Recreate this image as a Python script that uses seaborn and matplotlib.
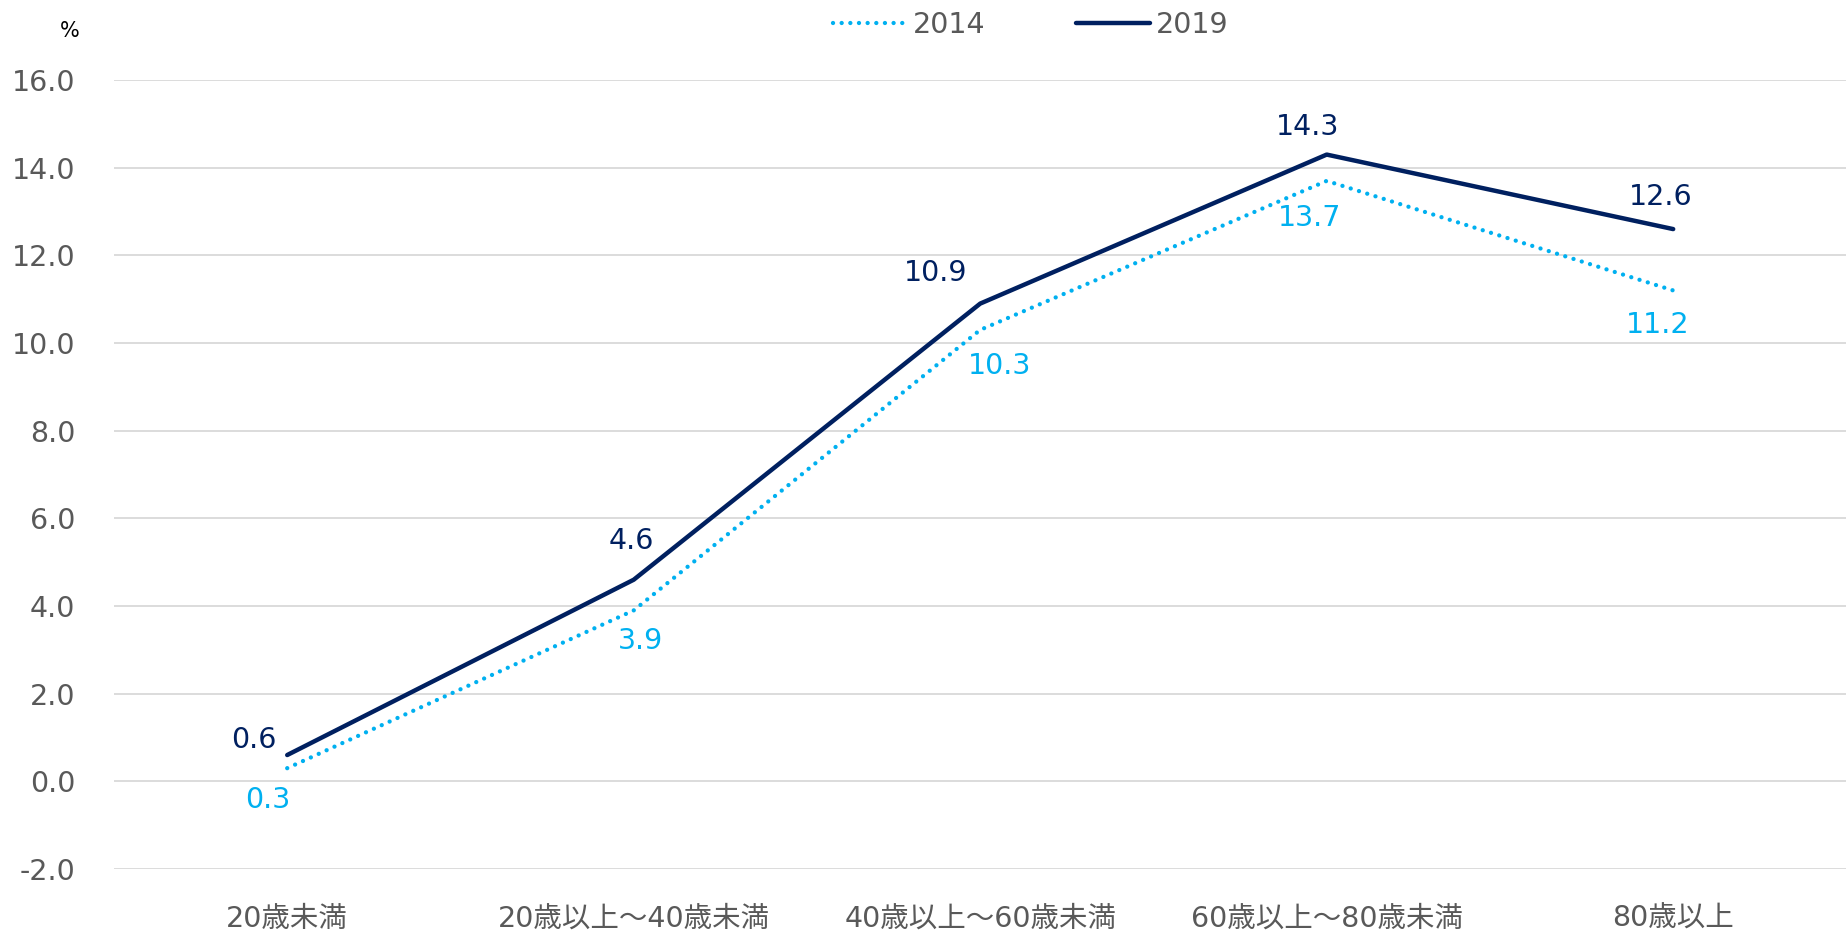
import seaborn as sns
import matplotlib.pyplot as plt
import pandas as pd
from matplotlib.ticker import FormatStrFormatter

# カテゴリと系列データ
categories = ['20歳未満', '20歳以上～40歳未満', '40歳以上～60歳未満', '60歳以上～80歳未満', '80歳以上']
vals_2014 = [0.3, 3.9, 10.3, 13.7, 11.2]
vals_2019 = [0.6, 4.6, 10.9, 14.3, 12.6]
series_names = ['2014', '2019']
yticks = [-2, 0, 2, 4, 6, 8, 10, 12, 14, 16]

# ラベル位置（ポイント単位のずらし）
off_2014 = [(-14, -23), (5, -22), (14, -26), (-12, -27), (-11, -25)]
off_2019 = [(-24, 11), (-2, 28), (-32, 22), (-14, 20), (-9, 23)]

c14 = '#00B0F0'
c19 = '#002060'
grey = '#595959'
fs = 20.5

sns.set_style('white')
plt.rcParams['font.family'] = ['DejaVu Sans', 'Noto Sans CJK JP']
plt.rcParams['axes.unicode_minus'] = False

df = pd.DataFrame({
    'cat': categories * 2,
    'val': vals_2014 + vals_2019,
    'year': [series_names[0]] * len(categories) + [series_names[1]] * len(categories),
})

fig = plt.figure(figsize=(18.47, 9.31), dpi=100)
ax = fig.add_axes([0.0617, 0.0666, 0.938, 0.8474])

sns.lineplot(data=df[df.year == '2014'], x='cat', y='val', ax=ax, color=c14,
             linewidth=3.1, linestyle=(0, (0.01, 2.0)), dash_capstyle='round',
             sort=False, errorbar=None, label='2014')
sns.lineplot(data=df[df.year == '2019'], x='cat', y='val', ax=ax, color=c19,
             linewidth=3.2, solid_capstyle='round', sort=False, errorbar=None, label='2019')

for i, (v, o) in enumerate(zip(vals_2014, off_2014)):
    ax.annotate(f'{v:.1f}', (i, v), xytext=o, textcoords='offset points',
                ha='center', va='center', color=c14, fontsize=fs)
for i, (v, o) in enumerate(zip(vals_2019, off_2019)):
    ax.annotate(f'{v:.1f}', (i, v), xytext=o, textcoords='offset points',
                ha='center', va='center', color=c19, fontsize=fs)

ax.set_xlim(-0.5, 4.5)
ax.set_ylim(-2, 16)
ax.set_yticks(yticks)
ax.yaxis.set_major_formatter(FormatStrFormatter('%.1f'))
ax.grid(axis='y', color='#D9D9D9', linewidth=1.3)
ax.grid(axis='x', visible=False)
for s in ax.spines.values():
    s.set_visible(False)
ax.tick_params(axis='y', length=0, pad=28, labelsize=fs, labelcolor=grey)
ax.tick_params(axis='x', length=0, pad=26, labelsize=fs, labelcolor=grey)
ax.set_xlabel('')
ax.set_ylabel('')

fig.text(0.038, 0.967, '%', fontsize=15, color='black', ha='center', va='center')

leg = ax.legend(loc='center', bbox_to_anchor=(0.558, 0.973), bbox_transform=fig.transFigure,
                ncol=2, frameon=False, fontsize=fs, handlelength=2.6,
                columnspacing=3.2, handletextpad=0.2)
for t in leg.get_texts():
    t.set_color(grey)

fig.savefig('out.png', dpi=100)
